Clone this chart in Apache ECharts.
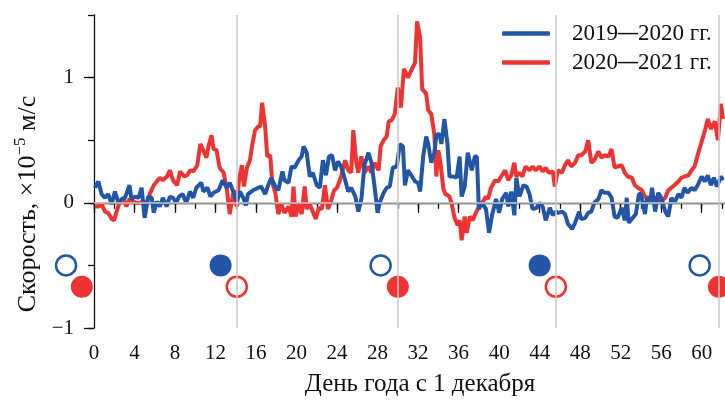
<!DOCTYPE html>
<html>
<head>
<meta charset="utf-8">
<script src="https://cdn.jsdelivr.net/npm/echarts@6/dist/echarts.min.js"></script>
<style>html,body{margin:0;padding:0;background:#fff}#c{width:725px;height:402px}</style>
</head>
<body>
<div id="c"></div>
<script>
// ---- data (day, velocity ×1e-5 m/s) ----
var blue2019 = [
[0.1,0.12],[0.43,0.17],[0.75,0.07],[1.09,0.04],[1.4,0.07],[1.74,-0.01],[2.07,0.09],[2.4,0],[2.73,0.03],[3.06,0.04],[3.5,0.14],[3.7,0.03],[4.05,0.05],[4.4,0.04],[4.7,0.12],[5.0,-0.12],[5.36,0.05],[5.7,0.04],[5.9,-0.08],[6.2,0.01],[6.5,-0.03],[6.8,0.04],[7.17,-0.03],[7.5,0.05],[7.8,0.04],[8.1,0],[8.4,0.05],[8.75,0.07],[9.1,0],[9.47,0.09],[9.8,0.04],[10.1,0.12],[10.6,0.16],[10.8,0.09],[11.2,0.12],[11.5,0.05],[11.8,0.08],[12.3,0.1],[12.7,0.18],[13.1,0.12],[13.4,0.16],[13.8,0.08],[14.1,0.01],[14.4,0.09],[14.8,0.03],[15.0,-0.02],[15.2,0.07],[15.7,0.1],[16.2,0.12],[16.5,0.13],[16.9,0.07],[17.2,0.14],[17.5,0.2],[17.9,0.13],[18.2,0.1],[18.6,0.25],[18.8,0.18],[19.2,0.16],[19.5,0.29],[19.8,0.28],[20.2,0.34],[20.5,0.37],[20.7,0.45],[21.0,0.4],[21.3,0.21],[21.6,0.24],[22.0,0.14],[22.3,0.12],[22.6,0.34],[22.9,0.22],[23.2,0.37],[23.5,0.38],[23.8,0.26],[24.1,0.33],[24.4,0.29],[24.8,0.18],[25.1,0.09],[25.4,0.12],[25.8,0.05],[26.1,-0.07],[26.4,0.03],[26.7,0.3],[27.1,0.4],[27.4,0.32],[27.7,0.13],[28.0,-0.08],[28.2,0],[28.6,0.08],[28.9,0.12],[29.2,0.13],[29.5,0.28],[29.9,0.29],[30.2,0.47],[30.5,0.45],[30.7,0.14],[31.0,0.26],[31.4,0.21],[31.7,0.17],[32.0,0.16],[32.2,0.09],[32.5,0.37],[32.8,0.53],[33.0,0.47],[33.3,0.32],[33.6,0.4],[33.8,0.54],[34.1,0.55],[34.3,0.47],[34.6,0.67],[34.9,0.47],[35.1,0.21],[35.5,0.21],[35.8,0.2],[36.1,0.37],[36.3,0.05],[36.6,0.13],[36.9,0.4],[37.3,0.26],[37.6,0.37],[37.8,0.37],[38.0,-0.05],[38.3,0],[38.7,-0.05],[39.0,-0.24],[39.3,-0.1],[39.7,0.03],[40.0,-0.08],[40.3,0.03],[40.7,0.08],[40.9,-0.03],[41.2,0.09],[41.5,-0.1],[41.7,0.2],[42.0,0.05],[42.4,0.14],[42.7,0.13],[43.0,0.07],[43.3,-0.05],[43.7,-0.04],[44.0,0],[44.3,-0.03],[44.6,-0.14],[45.0,-0.04],[45.3,-0.1],[45.6,-0.07],[45.8,-0.08],[46.2,-0.07],[46.5,-0.09],[46.8,-0.17],[47.2,-0.21],[47.5,-0.16],[47.9,-0.07],[48.1,-0.13],[48.5,-0.12],[48.8,-0.08],[49.1,-0.07],[49.4,0],[49.8,0.03],[50.1,0.1],[50.4,0.08],[50.8,0.08],[51.1,0.04],[51.4,-0.11],[51.7,-0.12],[52.1,-0.04],[52.4,-0.14],[52.6,0.04],[52.8,-0.16],[53.1,-0.13],[53.5,-0.09],[53.8,0.07],[54.0,0.07],[54.4,-0.09],[54.6,0.04],[54.9,0],[55.1,0.12],[55.4,-0.07],[55.7,0.08],[56.0,0.04],[56.4,-0.07],[56.7,-0.11],[57.0,0.04],[57.3,0],[57.7,0.07],[58.0,0.04],[58.3,0.12],[58.6,0.08],[59.0,0.12],[59.3,0.1],[59.6,0.14],[60.0,0.21],[60.3,0.17],[60.6,0.22],[60.9,0.14],[61.2,0.2],[61.5,0.13],[61.9,0.21],[62.1,0.18]
];
var red2020 = [
[0.1,-0.03],[0.43,-0.03],[0.75,-0.01],[1.09,-0.07],[1.4,-0.08],[1.74,-0.13],[1.97,-0.14],[2.2,-0.08],[2.5,0],[2.9,0.04],[3.2,-0.03],[3.5,0.03],[3.9,0.01],[4.2,0],[4.5,0],[4.9,0.01],[5.2,0],[5.5,0.07],[5.9,0.14],[6.2,0.17],[6.5,0.2],[6.8,0.18],[7.2,0.21],[7.5,0.26],[7.8,0.18],[8.2,0.14],[8.5,0.25],[8.9,0.21],[9.2,0.22],[9.5,0.26],[9.8,0.25],[10.2,0.3],[10.5,0.47],[10.9,0.4],[11.1,0.36],[11.3,0.45],[11.6,0.54],[11.8,0.43],[12.1,0.42],[12.4,0.28],[12.8,0.24],[13.1,0.12],[13.4,-0.09],[13.6,0.01],[13.8,0.1],[14.1,-0.03],[14.3,0.17],[14.6,0.3],[14.8,0.13],[15.1,0.28],[15.4,0.34],[15.6,0.45],[15.9,0.58],[16.2,0.61],[16.4,0.61],[16.6,0.8],[16.9,0.61],[17.1,0.37],[17.4,0.38],[17.6,0.16],[17.9,0.08],[18.2,-0.09],[18.5,-0.01],[18.8,-0.08],[19.2,-0.03],[19.5,-0.11],[19.7,0.13],[19.9,-0.11],[20.2,-0.01],[20.5,-0.09],[20.8,0.13],[21.0,-0.05],[21.3,-0.01],[21.6,-0.07],[21.9,-0.13],[22.2,-0.04],[22.5,-0.05],[22.8,0.14],[23.1,-0.05],[23.4,0.01],[23.7,0.1],[24.0,0.12],[24.4,0.21],[24.8,0.34],[25.1,0.26],[25.4,0.24],[25.6,0.58],[25.9,0.32],[26.1,0.24],[26.4,0.37],[26.7,0.24],[27.1,0.29],[27.4,0.24],[27.7,0.32],[28.1,0.26],[28.3,0.45],[28.6,0.5],[28.9,0.53],[29.1,0.65],[29.4,0.66],[29.7,0.71],[30.0,0.92],[30.3,0.76],[30.6,1.07],[31.0,1.0],[31.4,1.07],[31.7,1.12],[31.9,1.45],[32.2,1.32],[32.4,0.91],[32.8,0.87],[33.0,0.74],[33.3,0.71],[33.6,0.55],[33.8,0.21],[34.0,0.42],[34.2,0.32],[34.5,0.11],[34.7,0.07],[35.1,0.05],[35.3,0],[35.6,-0.12],[35.9,-0.18],[36.1,-0.14],[36.3,-0.3],[36.6,-0.11],[36.8,-0.24],[37.1,-0.11],[37.4,-0.14],[37.7,-0.08],[38.0,-0.03],[38.4,0.01],[38.7,0.05],[38.9,0.03],[39.2,0.12],[39.6,0.18],[39.9,0.17],[40.2,0.21],[40.6,0.26],[40.9,0.18],[41.2,0.22],[41.5,0.32],[41.7,0.21],[42.0,0.24],[42.3,0.21],[42.6,0.29],[43.0,0.26],[43.3,0.29],[43.6,0.26],[44.0,0.29],[44.3,0.25],[44.6,0.28],[44.9,0.24],[45.3,0.25],[45.5,0.13],[45.8,0.26],[46.2,0.24],[46.5,0.3],[46.8,0.34],[47.1,0.29],[47.5,0.32],[47.8,0.38],[48.1,0.38],[48.5,0.41],[48.8,0.5],[49.1,0.32],[49.4,0.34],[49.8,0.41],[50.1,0.36],[50.4,0.38],[50.8,0.37],[51.1,0.43],[51.4,0.28],[51.7,0.29],[52.1,0.3],[52.4,0.24],[52.7,0.21],[53.1,0.2],[53.4,0.14],[53.7,0.12],[54.1,0.1],[54.4,0.05],[54.7,0.04],[55.0,0.05],[55.4,0.04],[55.7,0.03],[56.0,0.01],[56.4,0.04],[56.7,0.1],[57.0,0.12],[57.3,0.14],[57.7,0.17],[58.0,0.2],[58.3,0.21],[58.7,0.22],[59.0,0.26],[59.3,0.29],[59.6,0.38],[60.0,0.49],[60.3,0.57],[60.6,0.67],[60.9,0.59],[61.3,0.65],[61.6,0.5],[61.9,0.79],[62.1,0.67]
];
// moon phase markers
var blueOpen   = [[-2.76,-0.5],[28.3,-0.5],[59.8,-0.5]];
var blueFilled = [[12.5,-0.5],[44.0,-0.5]];
var redOpen    = [[14.1,-0.67],[45.6,-0.67]];
var redFilled  = [[-1.2,-0.67],[30.0,-0.67],[61.7,-0.67]];
var vLines = [14.1, 30.0, 45.6, 61.7];
// ticks
var xMajorTicks = [0,4,8,12,16,20,24,28,32,36,40,44,48,52,56,60];
var xMinorTicks = [0,2,4,6,8,10,12,14,16,18,20,22,24,26,28,30,32,34,36,38,40,42,44,46,48,50,52,54,56,58,60,62];
var yMajorTicks = [-1,0,1];
var yMinorTicks = [-1,-0.5,0,0.5,1,1.5];
var seriesNames = ['2019–2020 гг.', '2020–2021 гг.'];

var BLUE = '#2356a6', RED = '#ee3333', GRAY = '#c8c8c8';
var FONT = 'Liberation Serif';
var axisCol = '#111';

var chart = echarts.init(document.getElementById('c'), null, {renderer:'canvas'});
var xmin = 0, xmax = 62.3, ymin = -1, ymax = 1.5;
var option = {
  animation: false,
  grid: {left: 94, top: 15, right: 0, bottom: 71, containLabel: false},
  legend: {
    data: seriesNames, orient: 'vertical', left: 497, top: 16,
    itemWidth: 48, itemHeight: 4.5, itemGap: 4, icon: 'roundRect',
    formatter: function(n){ return n.replace('–', '{d|—}'); },
    textStyle: {fontFamily: FONT, fontSize: 23, color: '#111', lineHeight: 25, padding: [0,0,0,17],
      rich: {d: {fontFamily: FONT, fontWeight: 'bold', fontSize: 20, color: '#111', lineHeight: 25}}}
  },
  xAxis: [{
    type: 'value', min: xmin, max: xmax,
    axisLine: {lineStyle: {color: axisCol, width: 1.3}},
    axisTick: {length: 10, lineStyle: {color: axisCol, width: 1.3}, customValues: xMajorTicks},
    axisLabel: {fontFamily: FONT, fontSize: 21, color: '#111', margin: 15, customValues: xMajorTicks},
    splitLine: {show: false},
    name: 'День года с 1 декабря', nameLocation: 'middle', nameGap: 44,
    nameTextStyle: {fontFamily: FONT, fontSize: 25, color: '#111', padding: [0,0,0,21]}
  },{
    type: 'value', min: xmin, max: xmax, position: 'bottom',
    axisLine: {show: false},
    axisTick: {length: 6, lineStyle: {color: axisCol, width: 1.3}, customValues: xMinorTicks},
    axisLabel: {show: false}, splitLine: {show: false}
  }],
  yAxis: [{
    type: 'value', min: ymin, max: ymax,
    axisLine: {show: true, lineStyle: {color: axisCol, width: 1.3}},
    axisTick: {show: true, length: 10, lineStyle: {color: axisCol, width: 1.3}, customValues: yMajorTicks},
    axisLabel: {fontFamily: FONT, fontSize: 21, color: '#111', margin: 20, customValues: yMajorTicks,
      formatter: function(v){ return v < 0 ? '\u2212' + Math.abs(v) : String(v); }},
    splitLine: {show: false}
  },{
    type: 'value', min: ymin, max: ymax, position: 'left',
    axisLine: {show: false},
    axisTick: {show: true, length: 6, lineStyle: {color: axisCol, width: 1.3}, customValues: yMinorTicks},
    axisLabel: {show: false}, splitLine: {show: false}
  }],
  graphic: [{
    type: 'text', x: 28, y: 204, rotation: Math.PI/2, z: 10,
    style: {
      text: 'Скорость, ×10{sup|−5} м/с',
      fontFamily: FONT, fontSize: 26, fill: '#111',
      align: 'center', verticalAlign: 'middle',
      rich: {sup: {fontFamily: FONT, fontSize: 17, fill: '#111', padding: [0,0,14,0]}}
    }
  }],
  series: [
    {type: 'line', data: [], silent: true, z: 1,
     markLine: {silent: true, symbol: 'none', label: {show: false},
       lineStyle: {color: GRAY, width: 1.5, type: 'solid'},
       data: [{yAxis: 0}].concat(vLines.map(function(v){ return {xAxis: v}; }))}},
    {name: seriesNames[1], type: 'line', data: red2020, showSymbol: false, z: 2,
     lineStyle: {color: RED, width: 4}, itemStyle: {color: RED}},
    {name: seriesNames[0], type: 'line', data: blue2019, showSymbol: false, z: 3,
     lineStyle: {color: BLUE, width: 4}, itemStyle: {color: BLUE}},
    {type: 'scatter', data: blueOpen, symbolSize: 20, clip: false, z: 4,
     itemStyle: {color: 'rgba(255,255,255,0)', borderColor: BLUE, borderWidth: 2.5, opacity: 1}},
    {type: 'scatter', data: blueFilled, symbolSize: 22, clip: false, z: 4,
     itemStyle: {color: BLUE, opacity: 1}},
    {type: 'scatter', data: redOpen, symbolSize: 20, clip: false, z: 4,
     itemStyle: {color: 'rgba(255,255,255,0)', borderColor: RED, borderWidth: 2.5, opacity: 1}},
    {type: 'scatter', data: redFilled, symbolSize: 22, clip: false, z: 4,
     itemStyle: {color: RED, opacity: 1}}
  ]
};
chart.setOption(option);
</script>
</body>
</html>
